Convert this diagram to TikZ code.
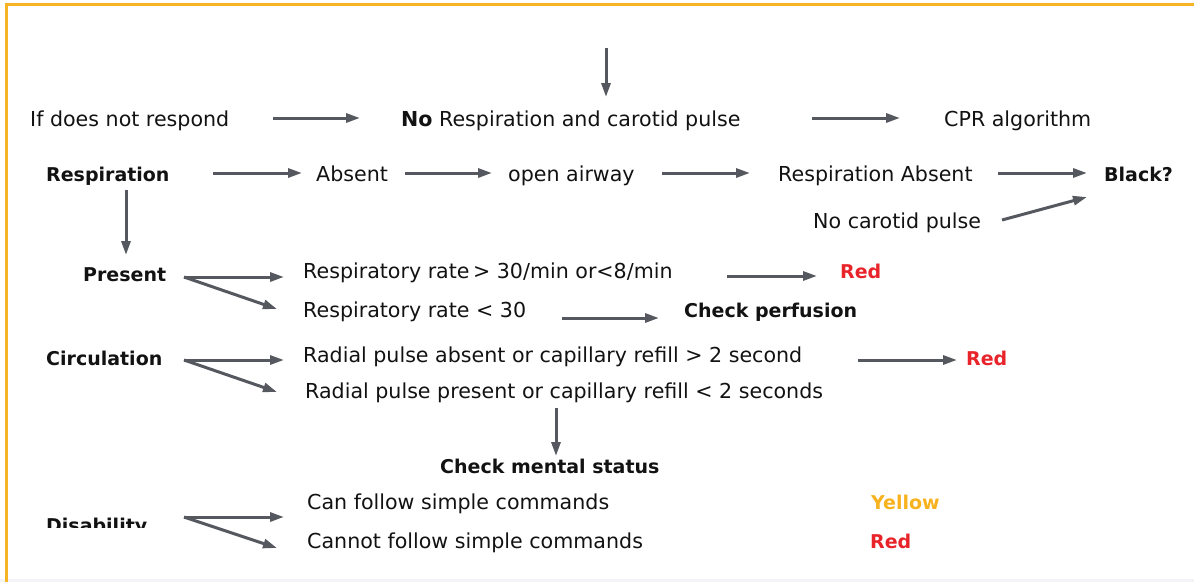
\documentclass[tikz,border=0pt]{standalone}
\usepackage{fontspec}
\setmainfont{DejaVu Sans}
\usetikzlibrary{arrows.meta}
\definecolor{frameorange}{HTML}{F6B324}
\definecolor{arrowgray}{HTML}{55585F}
\definecolor{txt}{HTML}{121212}
\definecolor{tagred}{HTML}{E8232A}
\definecolor{tagyellow}{HTML}{F7B21E}
\definecolor{strip}{HTML}{F4F4F8}
\begin{document}
\begin{tikzpicture}[x=1pt,y=-1pt,
  lbl/.style={anchor=base west,inner sep=0pt,text=txt,font=\fontsize{20.6}{24}\selectfont},
  blbl/.style={lbl,font=\fontsize{19}{24}\selectfont\bfseries},
  redtag/.style={blbl,text=tagred},
  yellowtag/.style={blbl,text=tagyellow},
  flow/.style={draw=arrowgray,line width=3pt,-{Triangle[length=14pt,width=9pt]}}
]
\useasboundingbox (0,0) rectangle (1194,582);
% page strip and frame
\fill[strip] (0,579) rectangle (1194,582);
\draw[frameorange,line width=3pt] (6,582) -- (6,4) -- (1194,4);

% row 1
\node[lbl] (resp0) at (30,126) {If does not respond};
\node[lbl] (nores) at (401,126) {\textbf{No} Respiration and carotid pulse};
\node[lbl] (cpr) at (944,126) {CPR algorithm};
% row 2
\node[blbl] (respir) at (46,181) {Respiration};
\node[lbl] (absent) at (316,181) {Absent};
\node[lbl] (airway) at (508,181) {open airway};
\node[lbl] (rabs) at (778,181) {Respiration Absent};
\node[blbl] (black) at (1104,181) {Black?};
\node[lbl] (nocar) at (813,228) {No carotid pulse};
% respiration present
\node[blbl] (present) at (83,281) {Present};
\node[lbl] (rrhigh) at (303,278) {Respiratory rate\,> 30/min or<8/min};
\node[redtag] (red1) at (840,278) {Red};
\node[lbl] (rrlow) at (303,317) {Respiratory rate < 30};
\node[blbl] (perf) at (684,317) {Check perfusion};
% circulation
\node[blbl] (circ) at (46,365) {Circulation};
\node[lbl] (radabs) at (303,362) {Radial pulse absent or capillary refill > 2 second};
\node[redtag] (red2) at (966,365) {Red};
\node[lbl] (radpres) at (305,398) {Radial pulse present or capillary refill < 2 seconds};
\node[blbl] (mental) at (440,473) {Check mental status};
% disability (label cut along its middle)
\begin{scope}
  \clip (40,505) rectangle (170,527);
  \node[blbl] (disab) at (46,532) {Disability};
\end{scope}
\node[lbl] (canf) at (307,509) {Can follow simple commands};
\node[yellowtag] (yel) at (871,509) {Yellow};
\node[lbl] (cannot) at (307,548) {Cannot follow simple commands};
\node[redtag] (red3) at (870,548) {Red};

% connector end points
\coordinate (t0) at (606,48);   \coordinate (t1) at (606,97);
\coordinate (a0) at (273,118);  \coordinate (a1) at (360,118);
\coordinate (b0) at (812,118);  \coordinate (b1) at (900,118);
\coordinate (c0) at (213,173);  \coordinate (c1) at (302,173);
\coordinate (d0) at (405,173);  \coordinate (d1) at (492,173);
\coordinate (e0) at (662,173);  \coordinate (e1) at (750,173);
\coordinate (f0) at (998,173);  \coordinate (f1) at (1087,173);
\coordinate (g0) at (1002,220); \coordinate (g1) at (1087,197);
\coordinate (h0) at (126,190);  \coordinate (h1) at (126,255);
\coordinate (p0) at (184,277);  \coordinate (p1) at (284,277); \coordinate (p2) at (277,309);
\coordinate (q0) at (727,276);  \coordinate (q1) at (817,276);
\coordinate (r0) at (562,318);  \coordinate (r1) at (659,318);
\coordinate (s0) at (184,360);  \coordinate (s1) at (284,360); \coordinate (s2) at (277,392);
\coordinate (u0) at (858,360);  \coordinate (u1) at (957,360);
\coordinate (v0) at (556,408);  \coordinate (v1) at (556,456);
\coordinate (w0) at (184,517);  \coordinate (w1) at (284,517); \coordinate (w2) at (277,548);

\draw[flow] (t0) -- (t1);
\draw[flow] (a0) -- (a1);
\draw[flow] (b0) -- (b1);
\draw[flow] (c0) -- (c1);
\draw[flow] (d0) -- (d1);
\draw[flow] (e0) -- (e1);
\draw[flow] (f0) -- (f1);
\draw[flow] (g0) -- (g1);
\draw[flow] (h0) -- (h1);
\draw[flow] (p0) -- (p1);
\draw[flow] (p0) -- (p2);
\draw[flow] (q0) -- (q1);
\draw[flow] (r0) -- (r1);
\draw[flow] (s0) -- (s1);
\draw[flow] (s0) -- (s2);
\draw[flow] (u0) -- (u1);
\draw[flow] (v0) -- (v1);
\draw[flow] (w0) -- (w1);
\draw[flow] (w0) -- (w2);
\end{tikzpicture}
\end{document}
